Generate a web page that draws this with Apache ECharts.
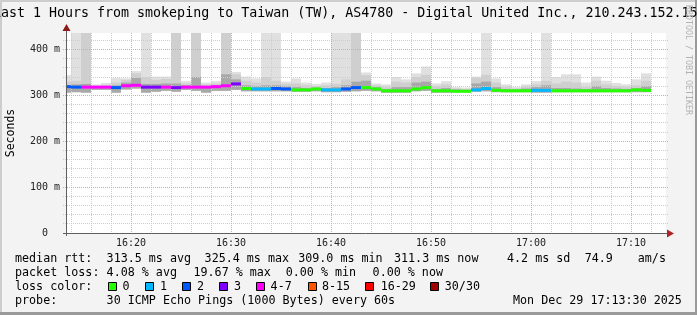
<!DOCTYPE html>
<html><head><meta charset="utf-8">
<script src="https://cdn.jsdelivr.net/npm/echarts@6/dist/echarts.min.js"></script>
<style>html,body{margin:0;padding:0;background:#f3f3f3;overflow:hidden}#c{width:697px;height:315px}</style>
</head><body><div id="c"></div>
<script>
// ---- data (minutes after 16:00; each bar covers [start, start+1]) ----
const barStart = [13,14,15,16,17,18,19,20,21,22,23,24,25,26,27,28,29,30,31,32,33,34,35,36,37,38,39,40,41,42,43,44,45,46,47,48,49,50,51,52,53,54,55,56,57,58,59,60,61,62,63,64,65,66,67,68,69,70,71];
// smoke: outer top, middle top, inner top, bottom (ms)
const smokeMax = [344,480,480,324,327,338,337,353,480,341, 341,480,331,480,328,331,480,351,341,337, 480,480,330,337,328,325,328,480,480,480, 350,326,324,340,335,348,363,326,331,318, 317,341,480,337,324,318,324,331,480,340, 346,346,328,341,332,327,324,335,348];
const smokeUpper = [330,332,480,321,323,328,334,348,340,334, 336,480,326,480,324,326,480,346,332,328, 340,332,325,326,322,320,322,325,335,480, 344,322,318,330,328,340,345,320,324,315, 314,338,345,328,318,315,319,324,332,326, 330,328,318,332,324,320,318,322,332];
const smokeInner = [322,324,325,320,320,322,328,338,325,325, 326,326,322,340,320,322,346,335,322,320, 322,322,320,318,316,317,316,318,322,330, 332,318,314,318,318,328,330,314,316,313, 312,326,330,318,314,313,315,318,322,316, 316,315,314,320,316,315,314,316,320];
const smokeMin = [306,307,306,312,312,306,313,315,306,308, 310,308,312,310,306,310,310,312,309,309, 309,309,309,308,308,309,307,307,308,309, 310,309,306,306,306,309,310,306,306,307, 307,308,309,307,307,307,307,306,306,307, 307,307,307,307,307,307,307,307,307];
const medianRtt = [319,318,318,318,318,317,321,322,318,318, 318,317,318,318,318,319,321,325,315,314, 314,315,314,312,312,314,312,312,314,317, 317,314,310,310,310,314,317,310,310,309, 309,312,315,311,310,310,310,311,311,310, 310,310,310,310,310,310,310,312,311];
const lossCount = [2,2,4,4,4,2,4,6,3,3, 4,3,4,4,4,4,4,3,0,1, 1,2,2,0,0,0,1,1,2,2, 0,0,0,0,0,0,0,0,0,0, 0,1,1,0,0,0,0,1,1,0, 0,0,0,0,0,0,0,0,0];

const timeLabelMinutes = [20,30,40,50,60,70];
const minorTimeLines = [14,16,18,22,24,26,28,32,34,36,38,42,44,46,48,52,54,56,58,62,64,66,68,72];
const majorTimeLines = [20,30,40,50,60,70];
const valueLabels = [0,100,200,300,400];
const minorValueLines = [20,40,60,80,120,140,160,180,220,240,260,280,320,340,360,380,420];
const majorValueLines = [100,200,300,400];

const legendLabels = ['0','1','2','3','4-7','8-15','16-29','30/30'];
const lossColors = ['#26ff00','#00b8ff','#0059ff','#7e00ff','#ff00ff','#ff5500','#ff0000','#a10000'];

const titleText = 'Last 1 Hours from smokeping to Taiwan (TW), AS4780 - Digital United Inc., 210.243.152.15';
const rttStats = ['median rtt:','313.5 ms avg','325.4 ms max','309.0 ms min','311.3 ms now','4.2 ms sd','74.9','am/s'];
const lossStats = ['packet loss:','4.08 % avg','19.67 % max','0.00 % min','0.00 % now'];
const probeText = ['probe:','30 ICMP Echo Pings (1000 Bytes) every 60s','Mon Dec 29 17:13:30 2025'];

// ---- chart ----
const X_MIN = 13.5, X_MAX = 73.5;
const FF = '"DejaVu Sans Mono", monospace';
const SMOKE = ['#e0e0e0', '#cfcfcf', '#a8a8a8'];

function lossColor(n) {
  if (n <= 0) return lossColors[0];
  if (n === 1) return lossColors[1];
  if (n === 2) return lossColors[2];
  if (n === 3) return lossColors[3];
  if (n <= 7) return lossColors[4];
  if (n <= 15) return lossColors[5];
  if (n <= 29) return lossColors[6];
  return lossColors[7];
}

const smokeData = barStart.map((s, i) => [s, s + 1, smokeMax[i], smokeUpper[i], smokeInner[i], smokeMin[i], medianRtt[i], lossCount[i]]);

function xRange(params, api) {
  const cs = params.coordSys;
  const x0 = api.coord([api.value(0), 0])[0];
  const x1 = api.coord([api.value(1), 0])[0];
  return [Math.max(x0, cs.x), Math.min(x1, cs.x + cs.width)];
}

function smokeRender(params, api) {
  const cs = params.coordSys;
  const [l, r] = xRange(params, api);
  const top = cs.y, bottom = cs.y + cs.height;
  const yOf = v => api.coord([api.value(0), v])[1];
  const lo = api.value(5);
  const children = [];
  [2, 3, 4].forEach((d, j) => {
    const y1 = Math.max(yOf(api.value(d)), top);
    const y2 = Math.min(yOf(lo), bottom);
    children.push({ type: 'rect', shape: { x: l, y: y1, width: r - l, height: y2 - y1 }, style: { fill: SMOKE[j] } });
  });
  return { type: 'group', children };
}

function medianRender(params, api) {
  const [l, r] = xRange(params, api);
  const ym = api.coord([api.value(0), api.value(6)])[1];
  return { type: 'rect', shape: { x: l, y: ym - 1.5, width: r - l, height: 3 }, style: { fill: lossColor(api.value(7)) } };
}

function gridSeries(values, color, vertical) {
  return {
    type: 'custom', z: 3, silent: true, animation: false,
    data: values.map(v => [v, v]),
    encode: { x: 0, y: 1 },
    renderItem(params, api) {
      const cs = params.coordSys;
      if (vertical) {
        const x = Math.floor(api.coord([api.value(0), 0])[0] + 0.01) + 0.5;
        return { type: 'line', shape: { x1: x, y1: cs.y, x2: x, y2: cs.y + cs.height + 2 }, style: { stroke: color, lineWidth: 1, lineDash: [1, 1] } };
      }
      const y = Math.floor(api.coord([X_MIN, api.value(1)])[1]) + 0.5;
      return { type: 'line', shape: { x1: cs.x - 3, y1: y, x2: cs.x + cs.width + 2, y2: y }, style: { stroke: color, lineWidth: 1, lineDash: [1, 1] } };
    }
  };
}

function txt(x, y, text, font, fill, extra) {
  return Object.assign({
    type: 'text', x, y, z: 100, silent: true,
    style: { text, font, fill, align: 'left', verticalAlign: 'middle', textAlign: 'left', textVerticalAlign: 'middle' }
  }, extra || {});
}

const LF = '11.7px ' + FF;
const graphics = [];
// frame
graphics.push({ type: 'rect', z: 100, shape: { x: 0, y: 0, width: 2, height: 315 }, style: { fill: '#cdcdcd' } });
graphics.push({ type: 'rect', z: 100, shape: { x: 0, y: 0, width: 697, height: 2 }, style: { fill: '#cdcdcd' } });
graphics.push({ type: 'rect', z: 100, shape: { x: 0, y: 312, width: 697, height: 3 }, style: { fill: '#9a9a9a' } });
graphics.push({ type: 'rect', z: 100, shape: { x: 695, y: 0, width: 2, height: 315 }, style: { fill: '#9a9a9a' } });
// title
graphics.push(txt(-7, 14, titleText, '13.3px ' + FF, '#000'));
// watermark
graphics.push({ type: 'text', x: 688.5, y: 60, rotation: -Math.PI / 2, z: 100, silent: true,
  style: { text: 'RRDTOOL / TOBI OETIKER', font: '8.3px ' + FF, fill: '#b2b2b2', align: 'center', verticalAlign: 'middle', textAlign: 'center', textVerticalAlign: 'middle' } });
// y title
graphics.push({ type: 'text', x: 11, y: 133, rotation: Math.PI / 2, z: 100, silent: true,
  style: { text: 'Seconds', font: '11.5px ' + FF, fill: '#000', align: 'center', verticalAlign: 'middle', textAlign: 'center', textVerticalAlign: 'middle' } });
// axes lines + arrows
graphics.push({ type: 'line', z: 100, shape: { x1: 66.5, y1: 29, x2: 66.5, y2: 236 }, style: { stroke: '#606060', lineWidth: 1 } });
graphics.push({ type: 'line', z: 100, shape: { x1: 63, y1: 233.5, x2: 668, y2: 233.5 }, style: { stroke: '#606060', lineWidth: 1 } });
graphics.push({ type: 'polygon', z: 100, shape: { points: [[66.5, 24], [62.5, 31], [70.5, 31]] }, style: { fill: '#8b1a1a' } });
graphics.push({ type: 'polygon', z: 100, shape: { points: [[674, 233.5], [667, 229.5], [667, 237.5]] }, style: { fill: '#b22222' } });
// legend lines
const rttX = [15, 106.6, 204.6, 298.2, 394, 507, 584.7, 637.8];
rttStats.forEach((t, i) => graphics.push(txt(rttX[i], 259, t, LF, '#000')));
const lossX = [15, 106.6, 193.5, 285.7, 372.6];
lossStats.forEach((t, i) => graphics.push(txt(lossX[i], 273, t, LF, '#000')));
graphics.push(txt(15, 287, 'loss color:', LF, '#000'));
const boxX = [107.5, 145, 182.4, 219.3, 256.3, 307.6, 365, 430.1];
const boxTextX = [122.6, 160, 197, 234, 270.6, 321.9, 380.7, 444.8];
legendLabels.forEach((t, i) => {
  graphics.push({ type: 'rect', z: 100, shape: { x: Math.round(boxX[i]) + 0.5, y: 282.5, width: 8, height: 8 }, style: { fill: lossColors[i], stroke: '#000', lineWidth: 1 } });
  graphics.push(txt(boxTextX[i], 287, t, LF, '#000'));
});
const probeX = [15, 106.6, 513];
probeText.forEach((t, i) => graphics.push(txt(probeX[i], 301, t, LF, '#000')));

const option = {
  backgroundColor: '#f3f3f3',
  animation: false,
  grid: { left: 66, top: 33, width: 600, height: 200, show: true, backgroundColor: '#ffffff', borderWidth: 0 },
  xAxis: {
    type: 'value', min: X_MIN, max: X_MAX,
    axisLine: { show: false }, axisTick: { show: false }, splitLine: { show: false },
    axisLabel: {
      customValues: timeLabelMinutes, margin: 5, fontSize: 10, fontFamily: FF, color: '#222',
      formatter: m => (16 + Math.floor(m / 60)) + ':' + String(m % 60).padStart(2, '0')
    }
  },
  yAxis: {
    type: 'value', min: 0, max: 436,
    axisLine: { show: false }, axisTick: { show: false }, splitLine: { show: false },
    axisLabel: { customValues: valueLabels, margin: 6, fontSize: 10, fontFamily: FF, color: '#222',
      formatter: v => v === 0 ? '0  ' : v + ' m' }
  },
  series: [
    { type: 'custom', z: 2, silent: true, data: smokeData, encode: { x: [0, 1], y: [2, 3, 4, 5] }, renderItem: smokeRender },
    gridSeries(minorTimeLines, '#cdcdcd', true),
    gridSeries(minorValueLines, '#cdcdcd', false),
    gridSeries(majorTimeLines, '#e8a0a0', true),
    gridSeries(majorValueLines, '#e8a0a0', false),
    { type: 'custom', z: 4, silent: true, data: smokeData, encode: { x: [0, 1], y: 6 }, renderItem: medianRender }
  ],
  graphic: { elements: graphics }
};

const chart = echarts.init(document.getElementById('c'));
chart.setOption(option);
</script>
</body></html>
